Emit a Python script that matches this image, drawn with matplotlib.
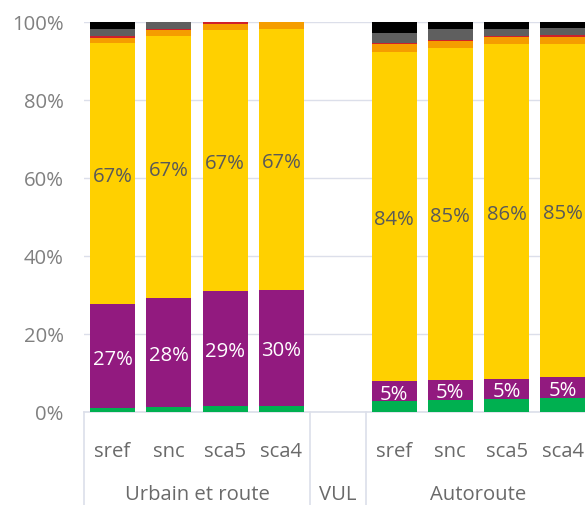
import matplotlib.pyplot as plt
import matplotlib.transforms as mtransforms
import numpy as np

# ── Data ──────────────────────────────────────────────────────────────────────
# category slots: Urbain et route (4), VUL (empty), Autoroute (4)
scenarios = ["sref", "snc", "sca5", "sca4", "", "sref", "snc", "sca5", "sca4"]
groups = ["Urbain et route", "VUL", "Autoroute"]
group_sizes = [4, 1, 4]

# shares in % (bottom → top), VUL slot is empty
green  = [1.0, 1.2, 1.6, 1.6, 0, 2.7, 3.1, 3.3, 3.6]
purple = [26.6, 28.0, 29.3, 29.8, 0, 5.3, 5.2, 5.2, 5.3]
yellow = [66.9, 67.2, 67.1, 66.9, 0, 84.3, 85.1, 85.9, 85.4]
orange = [1.5, 1.6, 1.5, 1.7, 0, 2.0, 1.7, 1.7, 1.9]
red    = [0.4, 0.3, 0.5, 0.0, 0, 0.4, 0.4, 0.4, 0.4]
gray   = [1.7, 1.7, 0.0, 0.0, 0, 2.6, 2.6, 1.7, 1.8]
black  = [1.9, 0.0, 0.0, 0.0, 0, 2.7, 1.9, 1.8, 1.6]

# ── Style ─────────────────────────────────────────────────────────────────────
SERIES = [
    (green,  "#00B050", None),
    (purple, "#921A7F", "white"),
    (yellow, "#FFD000", "#595959"),
    (orange, "#F59D00", None),
    (red,    "#D0202A", None),
    (gray,   "#5F5F5F", None),
    (black,  "#000000", None),
]
GRID = "#DCDFEA"
TXT = "#6A6A6A"
FS = 14.6

plt.rcParams.update({
    "font.family": ["Open Sans", "DejaVu Sans"],
})


def main(out_path="out.png"):
    fig = plt.figure(figsize=(5.85, 5.06), dpi=100)
    ax = fig.add_axes([84.4 / 585, 93 / 506, 506.7 / 585, 390 / 506])

    x = np.arange(len(scenarios))
    bottom = np.zeros(len(scenarios))
    for vals, color, lab_color in SERIES:
        vals = np.array(vals, dtype=float)
        ax.bar(x, vals, 0.8, bottom=bottom, color=color, zorder=3)
        if lab_color:
            for xi, v, b in zip(x, vals, bottom):
                if v > 0:
                    ax.text(xi, b + v / 2, f"{v:.0f}%", ha="center",
                            va="center_baseline", color=lab_color,
                            fontsize=FS, zorder=4)
        bottom += vals

    ax.set_xlim(-0.5, len(scenarios) - 0.5)
    ax.set_ylim(0, 100)
    ax.set_yticks(np.arange(0, 101, 20))
    ax.set_yticklabels([f"{t}%" for t in range(0, 101, 20)])
    ax.tick_params(axis="y", length=0, pad=15, labelsize=FS, labelcolor="#808080")
    ax.tick_params(axis="x", length=0, labelbottom=False)
    ax.yaxis.grid(True, color=GRID, linewidth=1.0, zorder=0)
    for s in ax.spines.values():
        s.set_visible(False)

    # multi-level category axis
    trans = mtransforms.blended_transform_factory(ax.transData, ax.transAxes)
    ax.plot([-0.5, len(scenarios) - 0.5], [0, 0], transform=trans,
            color=GRID, linewidth=1.2, clip_on=False, zorder=2)
    for xi, name in zip(x, scenarios):
        ax.text(xi, -0.1, name, transform=trans, ha="center", va="center",
                color=TXT, fontsize=FS)
    start = -0.5
    ax.plot([start, start], [0, -0.26], transform=trans, color=GRID,
            linewidth=1.2, clip_on=False)
    for g, n in zip(groups, group_sizes):
        end = start + n
        ax.text((start + end) / 2, -0.21, g, transform=trans, ha="center",
                va="center", color=TXT, fontsize=FS)
        ax.plot([end, end], [0, -0.26], transform=trans, color=GRID,
                linewidth=1.2, clip_on=False)
        start = end

    fig.savefig(out_path, dpi=100)


if __name__ == "__main__":
    main()
